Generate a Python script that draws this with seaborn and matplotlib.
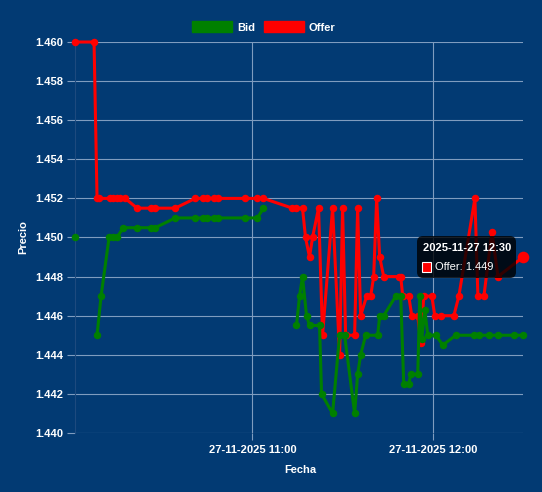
import matplotlib
matplotlib.use("Agg")
import matplotlib.pyplot as plt
import matplotlib.dates as mdates
from matplotlib.patches import FancyBboxPatch, Patch, Rectangle
import numpy as np
import pandas as pd
import seaborn as sns

# ---------------- data ----------------
DAY = "2025-11-27"

offer_times = [
    "10:01:00", "10:07:20", "10:08:20", "10:09:00", "10:12:40", "10:13:40", "10:15:00", "10:16:00",
    "10:17:40", "10:21:40", "10:26:20", "10:27:40", "10:34:20", "10:41:00", "10:43:40", "10:45:00",
    "10:47:20", "10:48:40", "10:57:40", "11:01:40", "11:03:40", "11:13:20", "11:14:40", "11:16:40",
    "11:17:40", "11:19:00", "11:20:00", "11:22:00", "11:23:20", "11:26:40", "11:29:00", "11:30:00",
    "11:31:00", "11:34:00", "11:35:00", "11:36:00", "11:38:00", "11:39:20", "11:40:20", "11:41:20",
    "11:42:20", "11:43:40", "11:48:40", "11:49:20", "11:50:00", "11:52:00", "11:53:00", "11:55:00",
    "11:56:00", "11:57:00", "11:59:40", "12:00:40", "12:02:40", "12:07:00", "12:08:40", "12:14:00",
    "12:15:00", "12:17:00", "12:19:40", "12:21:40", "12:30:00",
]
offer_values = [
    1.460, 1.460, 1.452, 1.452, 1.452, 1.452, 1.452, 1.452,
    1.452, 1.4515, 1.4515, 1.4515, 1.4515, 1.452, 1.452, 1.452,
    1.452, 1.452, 1.452, 1.452, 1.452, 1.4515, 1.4515, 1.4515,
    1.450, 1.449, 1.450, 1.4515, 1.445, 1.4515, 1.444, 1.4515,
    1.445, 1.445, 1.4515, 1.446, 1.447, 1.447, 1.448, 1.452,
    1.449, 1.448, 1.448, 1.448, 1.447, 1.447, 1.446, 1.446,
    1.4446, 1.447, 1.447, 1.446, 1.446, 1.446, 1.447, 1.452,
    1.447, 1.447, 1.4503, 1.448, 1.449,
]

bid_times = [
    "10:01:00", "10:05:00", "10:08:20", "10:09:40", "10:12:20", "10:13:40", "10:15:00", "10:17:00",
    "10:21:40", "10:26:20", "10:27:40", "10:34:20", "10:41:00", "10:43:40", "10:45:00", "10:47:20",
    "10:48:40", "10:57:40", "11:01:40", "11:03:40", "11:09:00", "11:14:40", "11:15:40", "11:16:40",
    "11:18:00", "11:19:00", "11:22:20", "11:23:00", "11:26:40", "11:29:00", "11:30:40", "11:34:00",
    "11:35:00", "11:36:00", "11:37:40", "11:41:40", "11:42:20", "11:43:40", "11:47:40", "11:49:20",
    "11:50:20", "11:52:00", "11:52:40", "11:55:00", "11:55:40", "11:56:20", "11:57:20", "11:58:20",
    "12:01:00", "12:03:20", "12:07:40", "12:13:40", "12:15:20", "12:18:40", "12:21:40", "12:27:00",
    "12:30:00",
]
bid_values = [
    1.450, None, 1.445, 1.447, 1.450, 1.450, 1.450, 1.4505,
    1.4505, 1.4505, 1.4505, 1.451, 1.451, 1.451, 1.451, 1.451,
    1.451, 1.451, 1.451, 1.4515, None, 1.4455, 1.447, 1.448,
    1.446, 1.4455, 1.4455, 1.442, 1.441, 1.445, 1.445, 1.441,
    1.443, 1.444, 1.445, 1.445, 1.446, 1.446, 1.447, 1.447,
    1.4425, 1.4425, 1.443, 1.443, 1.447, 1.4448, 1.4463, 1.445,
    1.445, 1.4445, 1.445, 1.445, 1.445, 1.445, 1.445, 1.445,
    1.445,
]

series_names = ["Bid", "Offer"]
series_colors = ["#008000", "#FF0000"]
y_ticks = [1.440, 1.442, 1.444, 1.446, 1.448, 1.450, 1.452, 1.454, 1.456, 1.458, 1.460]
x_title = "Fecha"
y_title = "Precio"
tooltip_title = "2025-11-27 12:30"
tooltip_label = "Offer: 1.449"

# ---------------- frames ----------------
def make_df(times, values):
    df = pd.DataFrame({
        "time": pd.to_datetime([f"{DAY} {t}" for t in times]),
        "price": pd.to_numeric(pd.Series(values, dtype="object"), errors="coerce").astype(float),
    })
    df["seg"] = df["price"].isna().cumsum()
    return df.dropna().reset_index(drop=True)

bid_df = make_df(bid_times, bid_values)
offer_df = make_df(offer_times, offer_values)

# ---------------- style ----------------
BG = "#023A73"
GRID = "#7F9CBF"
FONT = ["Liberation Sans", "DejaVu Sans"]
plt.rcParams["font.family"] = FONT

W, H, DPI = 542, 492, 100
fig = plt.figure(figsize=(W / DPI, H / DPI), dpi=DPI, facecolor=BG)
L, R, T, B = 75, 523, 42, 433
ax = fig.add_axes([L / W, (H - B) / H, (R - L) / W, (B - T) / H], facecolor=BG)

line_kw = dict(linewidth=2.2, marker="o", markersize=5.4, markeredgewidth=0,
               estimator=None, sort=False, legend=False)

sns.lineplot(data=offer_df, x="time", y="price", units="seg", color=series_colors[1],
             ax=ax, zorder=3, **line_kw)
sns.lineplot(data=bid_df, x="time", y="price", units="seg", color=series_colors[0],
             ax=ax, zorder=4, **line_kw)
# hovered point
sns.scatterplot(data=offer_df.tail(1), x="time", y="price", color=series_colors[1],
                s=70, linewidth=0, ax=ax, zorder=5, legend=False)
for ln in ax.lines:
    ln.set_clip_on(False)
    ln.set_solid_joinstyle("miter")
for c in ax.collections:
    c.set_clip_on(False)

ax.set_xlim(offer_df["time"].min(), offer_df["time"].max())
ax.set_ylim(y_ticks[0], y_ticks[-1])
ax.set_yticks(y_ticks)
ax.set_yticklabels([f"{v:.3f}" for v in y_ticks])
ax.xaxis.set_major_locator(mdates.HourLocator())
ax.xaxis.set_major_formatter(mdates.DateFormatter("%d-%m-%Y %H:%M"))

ax.grid(True, color=GRID, linewidth=0.8, zorder=0)
ax.set_axisbelow(True)
for s in ["top", "right", "bottom"]:
    ax.spines[s].set_visible(False)
ax.spines["left"].set_color("#1D4A7E")
ax.spines["left"].set_linewidth(0.8)

ax.tick_params(axis="y", length=5.8, width=0.8, color=GRID, pad=2.9,
               labelcolor="white", labelsize=8)
ax.tick_params(axis="x", length=5.0, width=0.8, color=GRID, pad=3.6,
               labelcolor="white", labelsize=8)
for lab in ax.get_xticklabels() + ax.get_yticklabels():
    lab.set_fontweight("bold")
ax.set_xlabel("")
ax.set_ylabel("")

fig.text(300 / W, (H - 470) / H, x_title, ha="center", va="center",
         color="white", fontsize=8, fontweight="bold")
fig.text(23 / W, (H - 237) / H, y_title, ha="center", va="center", rotation=90,
         color="white", fontsize=8, fontweight="bold")

# legend
handles = [Patch(facecolor=c, edgecolor=c, label=n) for n, c in zip(series_names, series_colors)]
leg = fig.legend(handles=handles, loc="center", bbox_to_anchor=(264 / W, (H - 27) / H),
                 ncol=2, frameon=False, fontsize=8, handlelength=3.6, handleheight=1.15,
                 handletextpad=0.45, columnspacing=0.75, borderaxespad=0, borderpad=0)
for t in leg.get_texts():
    t.set_color("white")
    t.set_fontweight("bold")

# tooltip
tip = FancyBboxPatch((417 / DPI, (H - 278) / DPI), 99 / DPI, 42 / DPI,
                     boxstyle="round,pad=0,rounding_size=0.06",
                     transform=fig.dpi_scale_trans, facecolor="black", alpha=0.8,
                     edgecolor="none", zorder=10)
fig.add_artist(tip)
fig.text(423 / W, (H - 248) / H, tooltip_title, ha="left", va="center",
         color="white", fontsize=8, fontweight="bold", zorder=11)
sq = Rectangle((421.5 / DPI, (H - 272) / DPI), 10 / DPI, 10 / DPI,
               transform=fig.dpi_scale_trans, facecolor=series_colors[1],
               edgecolor="white", linewidth=0.8, zorder=11)
fig.add_artist(sq)
fig.text(435 / W, (H - 267) / H, tooltip_label, ha="left", va="center",
         color="white", fontsize=8, zorder=11)

fig.savefig("out.png", dpi=DPI, facecolor=BG)
